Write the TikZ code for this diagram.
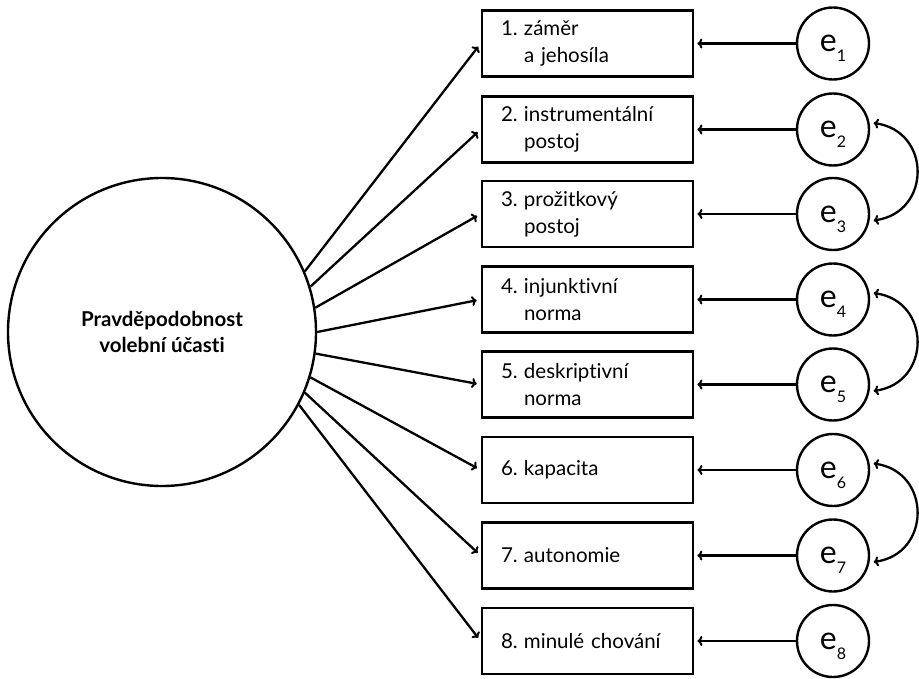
\documentclass[tikz,border=0pt]{standalone}
\usepackage{fontspec}
\setmainfont[Ligatures=NoCommon]{Lato}
\usetikzlibrary{arrows.meta}
\tikzset{
  box/.style={draw, line width=2.8pt, minimum width=211pt, minimum height=66pt,
    text width=173pt, inner xsep=19pt, inner ysep=0pt, align=left,
    font=\fontsize{20.5}{27}\selectfont},
  err/.style={circle, draw, line width=2.4pt, minimum size=72pt, inner sep=0pt},
  latent/.style={circle, draw, line width=2.4pt, minimum size=308pt, inner sep=0pt,
    align=center, font=\fontsize{20.5}{26}\selectfont\bfseries},
  load/.style={line width=2.3pt, -{To[length=5pt,width=10pt,line width=2pt]}, shorten >=4pt},
  res/.style={line width=2.3pt, -{To[length=5pt,width=10pt,line width=2pt]}, shorten >=3pt},
  corr/.style={line width=2.3pt, {To[length=5pt,width=10pt,line width=2pt]}-{To[length=5pt,width=10pt,line width=2pt]}}
}
\newcommand{\errlab}[1]{{\fontsize{32}{32}\selectfont e}\raisebox{-10pt}[0pt][0pt]{\fontsize{16}{16}\selectfont #1}}
\newcommand{\nb}[1]{\makebox[23pt][l]{#1}}
\begin{document}
\begin{tikzpicture}[x=1pt,y=-1pt]
\useasboundingbox (0,0) rectangle (919,679);
\node[latent] (L) at (162,332) {Pravděpodobnost\\volební účasti};

\node[box] (b1) at (587.5,43.5)  {\nb{1.}záměr\\\hspace*{23pt}a jehosíla};
\node[box] (b2) at (587.5,129.5) {\nb{2.}instrumentální\\\hspace*{23pt}postoj};
\node[box] (b3) at (587.5,214)   {\nb{3.}prožitkový\\\hspace*{23pt}postoj};
\node[box] (b4) at (587.5,299.5) {\nb{4.}injunktivní\\\hspace*{23pt}norma};
\node[box] (b5) at (587.5,384.5) {\nb{5.}deskriptivní\\\hspace*{23pt}norma};
\node[box] (b6) at (587.5,470)   {\nb{6.}kapacita};
\node[box] (b7) at (587.5,555.5) {\nb{7.}autonomie};
\node[box] (b8) at (587.5,641)   {\nb{8.}minulé chování};

\node[err] (e1) at (833,43.5)  {\errlab{1}};
\node[err] (e2) at (833,129.5) {\errlab{2}};
\node[err] (e3) at (833,214)   {\errlab{3}};
\node[err] (e4) at (833,299.5) {\errlab{4}};
\node[err] (e5) at (833,384.5) {\errlab{5}};
\node[err] (e6) at (833,470)   {\errlab{6}};
\node[err] (e7) at (833,555.5) {\errlab{7}};
\node[err] (e8) at (833,641)   {\errlab{8}};

\draw[load] (L.23)  -- (b1.west);
\draw[load] (L.17)  -- (b2.west);
\draw[load] (L.9)   -- (b3.west);
\draw[load] (L.0)   -- (b4.west);
\draw[load] (L.-8)  -- (b5.west);
\draw[load] (L.-17) -- (b6.west);
\draw[load] (L.-23) -- (b7.west);
\draw[load] (L.-28) -- (b8.west);

\foreach \i in {1,...,8} {\draw[res] (e\i.west) -- (b\i.east);}

\draw[corr] ([xshift=4pt]e2.10) .. controls +(58,8) and +(58,-8) .. ([xshift=4pt]e3.-10);
\draw[corr] ([xshift=4pt]e4.10) .. controls +(58,8) and +(58,-8) .. ([xshift=4pt]e5.-10);
\draw[corr] ([xshift=4pt]e6.10) .. controls +(58,8) and +(58,-8) .. ([xshift=4pt]e7.-10);
\end{tikzpicture}
\end{document}
